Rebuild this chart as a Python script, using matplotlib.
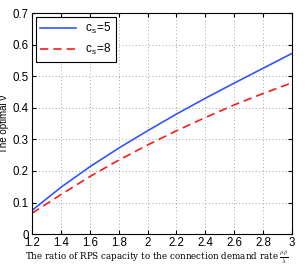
import matplotlib
matplotlib.use("Agg")
import matplotlib.pyplot as plt

# ratio mu*rho/lambda
ratio = [1.2, 1.4, 1.6, 1.8, 2.0, 2.2, 2.4, 2.6, 2.8, 3.0]
# optimal nu for each c_s
nu_cs5 = [0.075, 0.148, 0.213, 0.272, 0.327, 0.380, 0.430, 0.478, 0.525, 0.572]
nu_cs8 = [0.066, 0.125, 0.182, 0.234, 0.282, 0.327, 0.369, 0.409, 0.445, 0.479]

plt.rcParams['font.family'] = ['Liberation Sans', 'DejaVu Sans']
plt.rcParams['mathtext.fontset'] = 'cm'

fig = plt.figure(figsize=(3.05, 2.66), dpi=100)
ax = fig.add_axes([0.105, 0.12, 0.852, 0.831])

ax.plot(ratio, nu_cs5, color='#3355ff', lw=1.2, label='c$_\\mathregular{s}$=5')
ax.plot(ratio, nu_cs8, color='#ff1a1a', lw=1.2, ls=(0, (5, 3)), label='c$_\\mathregular{s}$=8')

ax.set_xlim(1.2, 3)
ax.set_ylim(0, 0.7)
ax.set_xticks([1.2, 1.4, 1.6, 1.8, 2, 2.2, 2.4, 2.6, 2.8, 3])
ax.set_xticklabels(['1.2', '1.4', '1.6', '1.8', '2', '2.2', '2.4', '2.6', '2.8', '3'])
ax.set_yticks([0, 0.1, 0.2, 0.3, 0.4, 0.5, 0.6, 0.7])
ax.set_yticklabels(['0', '0.1', '0.2', '0.3', '0.4', '0.5', '0.6', '0.7'])
ax.tick_params(labelsize=8.3, direction='in', length=3, top=True, right=True)
ax.tick_params(axis='x', pad=2)
ax.tick_params(axis='y', pad=2.5)
ax.grid(True, ls=(0, (1, 3)), color='#888888', lw=0.6)

ax.set_ylabel('The optimal \u03bd', fontsize=7)
ax.yaxis.set_label_coords(-0.088, 0.5)
ax.set_xlabel('The ratio of RPS capacity to the connection demand rate $\\frac{\\mu\\rho}{\\lambda}$',
              fontsize=6.3, family='DejaVu Serif')
ax.xaxis.set_label_coords(0.48, -0.066)

leg = ax.legend(loc='upper left', fontsize=8.5, fancybox=False, framealpha=1,
                edgecolor='black', borderaxespad=0.3, handlelength=3)
leg.get_frame().set_linewidth(0.8)

fig.savefig('out.png', dpi=100)
